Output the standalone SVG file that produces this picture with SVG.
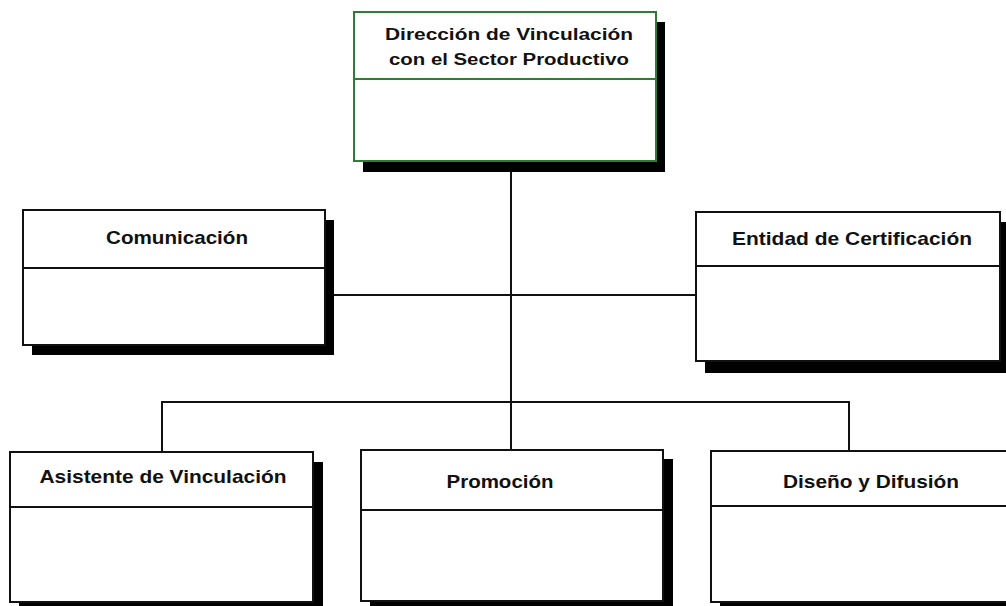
<svg xmlns="http://www.w3.org/2000/svg" width="1006" height="606" viewBox="0 0 1006 606">
<style>
.shadow{fill:#000}
.box{fill:#fff;stroke:#111;stroke-width:2}
.top{fill:#fff;stroke:#2e7d32;stroke-width:2}
.div{stroke:#111;stroke-width:2}
.divg{stroke:#2e7d32;stroke-width:2}
.lbl{font-family:"Liberation Sans",Arial,sans-serif;font-weight:bold;fill:#111;text-anchor:middle}
.conn{stroke:#111;stroke-width:2;fill:none}
</style>
<rect width="1006" height="606" fill="#fff"/>
<g id="connectors">
<line class="conn" x1="511" y1="161" x2="511" y2="450"/>
<line class="conn" x1="334" y1="295" x2="696" y2="295"/>
<polyline class="conn" points="162,452 162,402 849,402 849,451"/>
</g>
<g id="n-direccion">
<rect class="shadow" x="363" y="22" width="302" height="150"/>
<rect class="top" x="354" y="12" width="302" height="149"/>
<line class="divg" x1="354" y1="79" x2="656" y2="79"/>
<text class="lbl" x="509" y="40" font-size="16" textLength="248" lengthAdjust="spacingAndGlyphs">Dirección de Vinculación</text>
<text class="lbl" x="509" y="65" font-size="16" textLength="240" lengthAdjust="spacingAndGlyphs">con el Sector Productivo</text>
</g>
<g id="n-comunicacion">
<rect class="shadow" x="32" y="220" width="302" height="135"/>
<rect class="box" x="23" y="210" width="302" height="135"/>
<line class="div" x1="23" y1="268" x2="325" y2="268"/>
<text class="lbl" x="177" y="244" font-size="19" textLength="142" lengthAdjust="spacingAndGlyphs">Comunicación</text>
</g>
<g id="n-entidad">
<rect class="shadow" x="705" y="222" width="304" height="151"/>
<rect class="box" x="696" y="212" width="304" height="149"/>
<line class="div" x1="696" y1="266" x2="1000" y2="266"/>
<text class="lbl" x="852" y="245" font-size="19" textLength="240" lengthAdjust="spacingAndGlyphs">Entidad de Certificación</text>
</g>
<g id="n-asistente">
<rect class="shadow" x="19" y="462" width="304" height="150"/>
<rect class="box" x="10" y="452" width="303" height="150"/>
<line class="div" x1="10" y1="507" x2="313" y2="507"/>
<text class="lbl" x="163" y="483" font-size="19" textLength="247" lengthAdjust="spacingAndGlyphs">Asistente de Vinculación</text>
</g>
<g id="n-promocion">
<rect class="shadow" x="370" y="459" width="303" height="152"/>
<rect class="box" x="361" y="450" width="302" height="151"/>
<line class="div" x1="361" y1="510" x2="663" y2="510"/>
<text class="lbl" x="500" y="488" font-size="19" textLength="107" lengthAdjust="spacingAndGlyphs">Promoción</text>
</g>
<g id="n-diseno">
<rect class="shadow" x="720" y="461" width="300" height="150"/>
<rect class="box" x="711" y="451" width="300" height="151"/>
<line class="div" x1="711" y1="506" x2="1011" y2="506"/>
<text class="lbl" x="871" y="488" font-size="19" textLength="176" lengthAdjust="spacingAndGlyphs">Diseño y Difusión</text>
</g>
</svg>
